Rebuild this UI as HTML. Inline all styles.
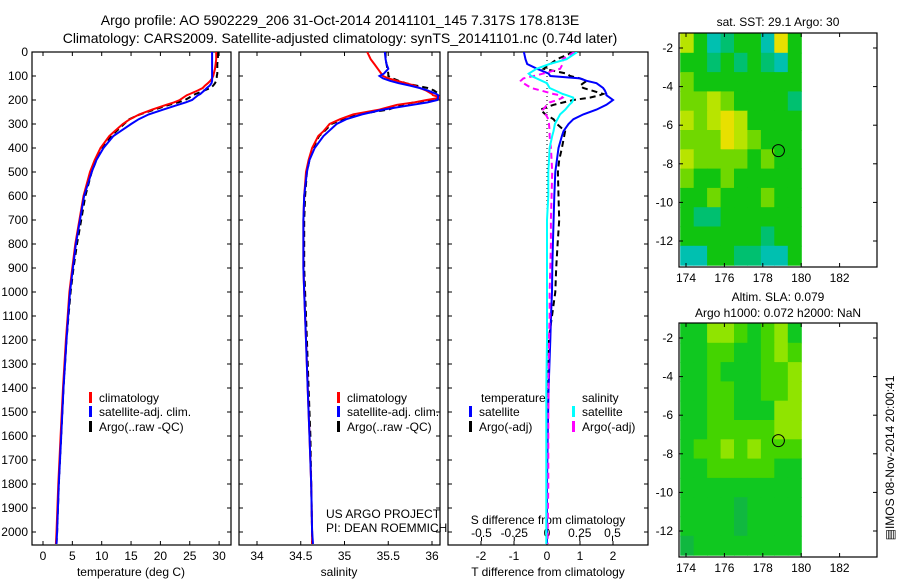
<!DOCTYPE html>
<html><head><meta charset="utf-8">
<style>
html,body{margin:0;padding:0;background:#fff;}
svg{display:block;font-family:"Liberation Sans",sans-serif;}
</style></head>
<body>
<svg id="root" width="900" height="580" viewBox="0 0 900 580" xmlns="http://www.w3.org/2000/svg">
<defs>
<clipPath id="c1"><rect x="32" y="52" width="199" height="493"/></clipPath>
<clipPath id="c2"><rect x="239" y="52" width="201" height="493"/></clipPath>
<clipPath id="c3"><rect x="448" y="52" width="200" height="493"/></clipPath>
</defs>
<text x="340" y="25" font-size="14" text-anchor="middle">Argo profile: AO 5902229_206 31-Oct-2014 20141101_145 7.317S 178.813E</text>
<text x="340" y="43" font-size="14" text-anchor="middle">Climatology: CARS2009. Satellite-adjusted climatology: synTS_20141101.nc (0.74d later)</text>
<g id="g"></g>
</svg>
<script>
// ---------- data ----------
const depths = [0,30,50,70,90,100,110,120,130,140,150,160,175,180,190,200,210,220,240,260,280,300,330,350,400,450,500,600,700,800,900,1000,1100,1200,1400,1600,1800,2000,2050];
const tempClim = [29.5,29.5,29.4,29.3,29.1,29.0,28.8,28.5,28.1,27.6,27.2,26.4,25.0,24.5,23.9,23.3,22.3,21.0,18.6,16.4,14.8,13.6,12.2,11.3,9.8,8.8,8.0,6.9,6.2,5.5,5.0,4.5,4.2,3.9,3.4,3.0,2.6,2.3,2.2];
const tempSat  = [28.8,28.8,28.8,28.8,28.8,28.8,28.8,28.8,28.7,28.4,27.9,27.5,26.8,26.4,25.9,25.4,24.3,23.0,20.5,18.0,16.3,15.0,13.2,12.0,10.3,9.1,8.3,7.0,6.3,5.6,5.1,4.6,4.3,4.0,3.5,3.1,2.7,2.4,2.3];
const tempArgo = [29.8,29.8,29.7,29.7,29.7,29.6,29.6,29.5,29.3,29.0,28.5,27.5,26.0,25.5,24.9,24.2,23.0,21.5,19.0,16.5,14.7,13.8,12.5,11.6,10.1,9.1,8.3,7.2,6.5,5.8,5.2,4.7,4.35,4.0,3.5,3.1,2.7,2.4,2.3];
const salClim  = [35.26,35.3,35.34,35.38,35.42,35.44,35.5,35.6,35.7,35.8,35.86,35.93,36.0,36.01,36.1,35.94,35.8,35.6,35.4,35.1,34.95,34.83,34.76,34.7,34.63,34.59,34.56,34.54,34.53,34.53,34.53,34.54,34.55,34.56,34.58,34.6,34.62,34.63,34.63];
const salSat   = [35.46,35.47,35.48,35.5,35.45,35.4,35.44,35.52,35.62,35.75,35.86,35.95,36.05,36.07,36.07,36.06,35.95,35.78,35.44,35.2,35.02,34.91,34.82,34.76,34.66,34.6,34.57,34.54,34.53,34.53,34.53,34.54,34.55,34.56,34.58,34.6,34.62,34.63,34.64];
const salArgo  = [35.47,35.47,35.48,35.49,35.5,35.5,35.55,35.62,35.7,35.82,35.95,36.02,36.08,36.09,36.1,36.0,35.8,35.65,35.5,35.15,34.98,34.85,34.77,34.71,34.64,34.6,34.57,34.55,34.54,34.54,34.54,34.55,34.56,34.57,34.59,34.61,34.62,34.63,34.63];
const tDiffSat  = [-0.7,-0.65,-0.6,-0.3,0.05,0.1,1.0,1.2,1.5,1.6,1.7,1.75,1.8,1.8,1.9,2.0,1.9,1.8,1.5,1.1,0.8,0.65,0.5,0.45,0.35,0.3,0.25,0.22,0.2,0.18,0.16,0.15,0.12,0.1,0.05,0.02,0.0,0.0,0.0];
const tDiffArgo = [0.8,0.3,0.1,-0.1,0.6,0.7,1.0,1.2,1.1,1.0,1.1,1.35,1.7,1.6,1.3,0.8,0.5,0.2,-0.2,-0.05,0.2,0.3,0.55,0.52,0.45,0.37,0.33,0.35,0.37,0.32,0.28,0.25,0.15,0.05,0.0,0.0,0.0,0.0,0.0];
const sDiffSat  = [0.23,0.15,0.02,-0.08,-0.14,-0.12,-0.08,-0.04,0.0,0.01,0.02,0.06,0.12,0.15,0.2,0.2,0.19,0.17,0.14,0.1,0.08,0.06,0.05,0.04,0.02,0.015,0.01,0.01,0.0,0.0,0.0,0.0,0.0,0.0,-0.005,-0.005,-0.005,-0.005,-0.005];
const sDiffArgo = [0.21,0.12,0.12,0.1,-0.03,-0.1,-0.18,-0.2,-0.18,-0.15,-0.12,-0.05,0.05,0.1,0.12,0.08,0.02,0.0,-0.03,-0.01,0.01,0.015,0.02,0.02,0.03,0.035,0.04,0.035,0.03,0.03,0.025,0.02,0.02,0.015,0.01,0.01,0.01,0.005,0.005];
const depthTicks = [0,100,200,300,400,500,600,700,800,900,1000,1100,1200,1300,1400,1500,1600,1700,1800,1900,2000];
const tempTicks = [0,5,10,15,20,25,30];
const salTicks = [34,34.5,35,35.5,36];
const tdTicks = [-2,-1,0,1,2];
const sdTicks = [-0.5,-0.25,0,0.25,0.5];
const lonTicks = [174,176,178,180,182];
const latTicks = [-2,-4,-6,-8,-10,-12];
const sstGrid = [
[5,3,1,2,3,3,1,6,3],[3,3,2,3,2,3,2,1,3],[4,3,3,3,3,3,3,3,3],[4,4,5,4,3,3,3,3,2],
[5,4,5,6,5,3,3,3,3],[4,4,4,6,5,4,3,3,3],[5,4,4,4,4,3,4,3,3],[4,3,3,4,3,3,3,3,3],
[3,3,4,3,3,3,4,3,3],[3,2,2,3,3,3,3,3,3],[3,3,3,3,3,3,2,3,3],[1,1,3,3,2,2,1,1,3]];
const slaGrid = [
[3,3,5,5,4,3,4,5,3],[3,3,4,4,3,3,4,5,4],[3,3,4,3,3,3,4,4,5],[3,3,4,4,3,3,4,4,5],
[3,3,4,4,3,3,3,5,5],[3,3,4,4,4,4,4,5,5],[3,4,4,5,4,5,4,4,4],[3,3,4,4,4,4,4,3,3],
[3,3,3,3,3,3,3,3,3],[3,3,3,3,2,3,3,3,3],[3,3,3,3,2,3,3,3,3],[2,3,3,3,3,3,3,3,3]];
const sstColors = ["#1060e0","#00c0b0","#00c070","#10c410","#70d800","#b8e400","#e8e000"];
const slaColors = ["#10a060","#10a060","#10b840","#10c820","#44d400","#90e400","#b0f000"];
const floatLon = 178.813, floatLat = -7.317;

// ---------- helpers ----------
const NS="http://www.w3.org/2000/svg";
const G=document.getElementById('g');
function mk(tag,attrs,parent){const e=document.createElementNS(NS,tag);for(const k in attrs)e.setAttribute(k,attrs[k]);(parent||G).appendChild(e);return e;}
const yD = d => 52 + 0.24*d;
const xT = t => 43 + t*5.87;
const xS = s => 257 + (s-34)*87.5;
const xTD = t => 547 + 33*t;
const xSD = s => 547 + 131*s;
const xLon = l => 686 + (l-174)*19.2;
const yLat = (l,off) => off + 48 + (-2-l)*19.3;

function curve(xs, xf, color, dash, clip, name){
  let d='';
  for(let i=0;i<xs.length;i++){d+=(i?'L':'M')+xf(xs[i]).toFixed(1)+','+yD(depths[i]).toFixed(1);}
  const p=mk('path',{d:d,fill:'none',stroke:color,'stroke-width':2,'clip-path':'url(#'+clip+')'});
  if(dash)p.setAttribute('stroke-dasharray',dash);
  
  
}
function txt(x,y,s,size,anchor,name){
  const t=mk('text',{x:x,y:y,'font-size':size,'text-anchor':anchor||'start'});
  t.textContent=s;
  
  
  return t;
}
function frame(x0,y0,x1,y1,name){
  const r=mk('rect',{x:x0,y:y0,width:x1-x0,height:y1-y0,fill:'none',stroke:'#000','stroke-width':1.2});
  
  
}
function tk(x1,y1,x2,y2){mk('line',{x1:x1,y1:y1,x2:x2,y2:y2,stroke:'#000','stroke-width':1});}

// ---------- profile panels ----------
const panels=[[32,231,'temperature-panel'],[239,440,'salinity-panel'],[448,648,'difference-panel']];
panels.forEach(p=>{
  frame(p[0],52,p[1],545,p[2]+'-frame');
  depthTicks.forEach(d=>{tk(p[0],yD(d),p[0]+4,yD(d));tk(p[1]-4,yD(d),p[1],yD(d));});
});
depthTicks.forEach(d=>{txt(28,yD(d)+4,String(d),12,'end','depth-tick-label');});
tempTicks.forEach(t=>{tk(xT(t),545,xT(t),541);tk(xT(t),52,xT(t),56);txt(xT(t),560,String(t),12,'middle','temp-tick-label');});
salTicks.forEach(s=>{tk(xS(s),545,xS(s),541);tk(xS(s),52,xS(s),56);txt(xS(s),560,String(s),12,'middle','sal-tick-label');});
tdTicks.forEach(t=>{tk(xTD(t),545,xTD(t),541);tk(xTD(t),52,xTD(t),56);txt(xTD(t),560,String(t),12,'middle','tdiff-tick-label');});
sdTicks.forEach(s=>{tk(xSD(s),541,xSD(s),537);txt(xSD(s),537,String(s),12,'middle','sdiff-tick-label');});
txt(131,576,'temperature (deg C)',12,'middle','x-axis-title-temperature');
txt(339,576,'salinity',12,'middle','x-axis-title-salinity');
txt(548,576,'T difference from climatology',12,'middle','x-axis-title-tdiff');
txt(548,524,'S difference from climatology',12,'middle','x-axis-title-sdiff');
mk('line',{x1:547,y1:52,x2:547,y2:545,stroke:'#000','stroke-width':1,'stroke-dasharray':'1,3'});

curve(tempArgo,xT,'#000','6,4','c1','temp-argo-line');
curve(tempClim,xT,'#f00',null,'c1','temp-climatology-line');
curve(tempSat,xT,'#00f',null,'c1','temp-satellite-line');
curve(salArgo,xS,'#000','6,4','c2','sal-argo-line');
curve(salClim,xS,'#f00',null,'c2','sal-climatology-line');
curve(salSat,xS,'#00f',null,'c2','sal-satellite-line');
curve(tDiffArgo,xTD,'#000','6,4','c3','tdiff-argo-line');
curve(tDiffSat,xTD,'#00f',null,'c3','tdiff-satellite-line');
curve(sDiffArgo,xSD,'#f0f','6,4','c3','sdiff-argo-line');
curve(sDiffSat,xSD,'#0ff',null,'c3','sdiff-satellite-line');

function legItem(x,y,color,label,name){
  const r=mk('rect',{x:x,y:y-10,width:3,height:11,fill:color});
  
  
  txt(x+10,y,label,12,'start',name);
}
legItem(89,402,'#f00','climatology','legend-climatology');
legItem(89,416,'#00f','satellite-adj. clim.','legend-satellite-adj');
legItem(89,431,'#000','Argo(..raw -QC)','legend-argo');
legItem(337,402,'#f00','climatology','legend-climatology-sal');
legItem(337,416,'#00f','satellite-adj. clim.','legend-satellite-adj-sal');
legItem(337,431,'#000','Argo(..raw -QC)','legend-argo-sal');
txt(481,402,'temperature',12,'start','legend-temperature-header');
legItem(469,416,'#00f','satellite','legend-tdiff-satellite');
legItem(469,431,'#000','Argo(-adj)','legend-tdiff-argo');
txt(582,402,'salinity',12,'start','legend-salinity-header');
legItem(572,416,'#0ff','satellite','legend-sdiff-satellite');
legItem(572,431,'#f0f','Argo(-adj)','legend-sdiff-argo');
txt(326,518,'US ARGO PROJECT',12,'start','project-label');
txt(326,532,'PI: DEAN ROEMMICH',12,'start','pi-label');

// ---------- maps ----------
function drawMap(grid,colors,off,name){
  const cw=(xLon(180)-xLon(173.7))/grid[0].length;
  for(let r=0;r<grid.length;r++){
    for(let c=0;c<grid[r].length;c++){
      const x=xLon(173.7+c*0.7), y=yLat(-1.25-r,off);
      const cell=mk('rect',{x:x.toFixed(1),y:y.toFixed(1),width:(cw+0.6).toFixed(1),height:(19.3+0.6).toFixed(1),fill:colors[grid[r][c]]});
      
      
    }
  }
  frame(679,33+off,877,267+off,name+'-frame');
  lonTicks.forEach(l=>{tk(xLon(l),33+off,xLon(l),37+off);tk(xLon(l),267+off,xLon(l),263+off);txt(xLon(l),282+off,String(l),12,'middle','lon-tick-label');});
  latTicks.forEach(l=>{tk(679,yLat(l,off),683,yLat(l,off));tk(873,yLat(l,off),877,yLat(l,off));txt(673,yLat(l,off)+4,String(l),12,'end','lat-tick-label');});
  const c=mk('circle',{cx:xLon(floatLon),cy:yLat(floatLat,off),r:6,fill:'none',stroke:'#000','stroke-width':1});
  
  
}
drawMap(sstGrid,sstColors,0,'sst-map');
drawMap(slaGrid,slaColors,290,'sla-map');
txt(778,26,'sat. SST: 29.1 Argo: 30',12,'middle','sst-map-title');
txt(778,301,'Altim. SLA: 0.079',12,'middle','sla-map-title-1');
txt(778,317,'Argo h1000: 0.072 h2000: NaN',12,'middle','sla-map-title-2');
const ts=txt(0,0,'\u25A4IMOS 08-Nov-2014 20:00:41',12,'middle','timestamp-label');
ts.setAttribute('transform','translate(894,458) rotate(-90)');
</script>
</body></html>
